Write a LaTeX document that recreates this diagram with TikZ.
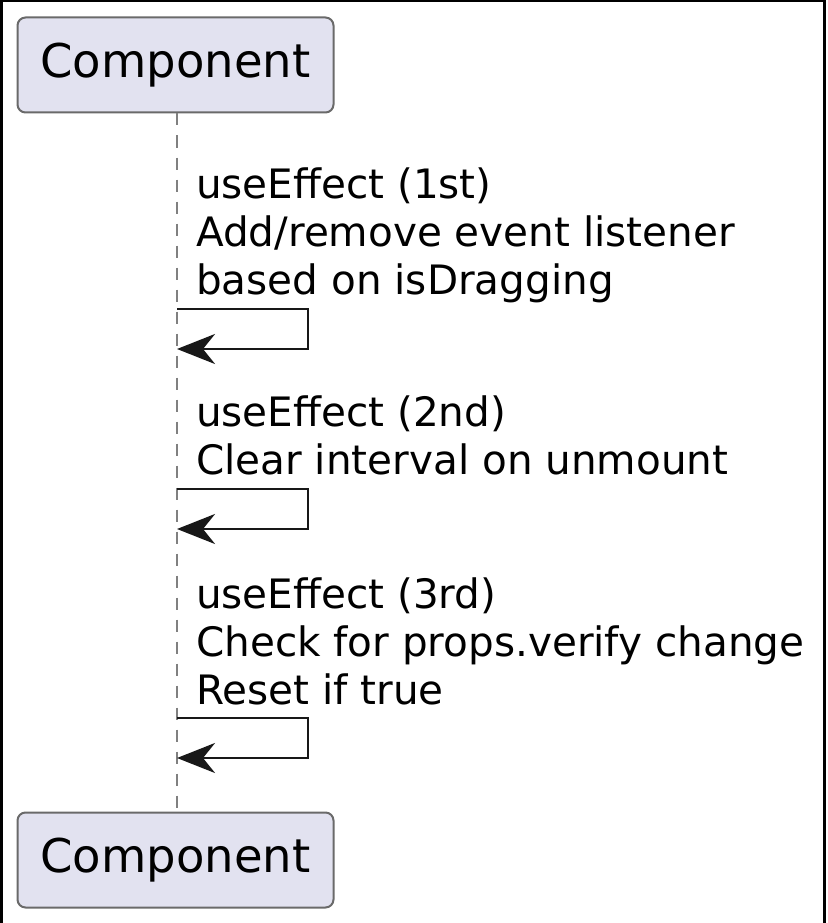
\documentclass[tikz,border=0pt]{standalone}
\usepackage{fontspec}
\setmainfont{DejaVu Sans}
\usetikzlibrary{arrows.meta,positioning}
\definecolor{partfill}{HTML}{E2E2F0}
\definecolor{partedge}{HTML}{6A6A6A}
\definecolor{msgline}{HTML}{181818}

\begin{document}
\begin{tikzpicture}[x=1pt, y=-1pt,
      partbox/.style={draw=partedge, fill=partfill, rounded corners=8pt, line width=2pt,
                   font=\fontsize{46.5}{54}\selectfont, minimum width=316pt, minimum height=95pt,
                   inner sep=0pt},
      lifeline/.style={draw=black!50, line width=1.5pt, dash pattern=on 12pt off 10pt},
      selfarr/.style={draw=msgline, line width=2.8pt,
                   -{Stealth[length=38pt, width=30pt, inset=12pt]}},
      msglab/.style={font=\fontsize{40.5}{48}\selectfont, align=left, anchor=base west,
                   inner sep=0pt}
    ]
    \useasboundingbox (0,0) rectangle (827,923);
    % frame
    \draw[line width=2.5pt] (1.25,923) -- (1.25,1.25) -- (824.5,1.25) -- (824.5,923);
    \node[partbox] (comptop) at (175.5,65) {Component};
    \node[partbox] (compbot) at (175.5,860) {Component};
    \draw[lifeline] (comptop.south -| 177,0) -- (compbot.north -| 177,0);
    % messages (anchored at the baseline of the last line)
    \node[msglab] (m1) at (196,294)
      {useEffect (1st)\\ Add/remove event listener\\ based on isDragging};
    \node[msglab] (m2) at (196,474)
      {useEffect (2nd)\\ Clear interval on unmount};
    \node[msglab] (m3) at (196,704)
      {useEffect (3rd)\\ Check for props.verify change\\ Reset if true};
    \foreach \n/\y in {1/309, 2/489, 3/718} {
      \coordinate (s\n) at (177,\y);
      \coordinate (e\n) at (177,\y+40);
      \draw[selfarr] (s\n) -- ++(131,0) -- ++(0,40) -- (e\n);
    }
  \end{tikzpicture}
\end{document}
